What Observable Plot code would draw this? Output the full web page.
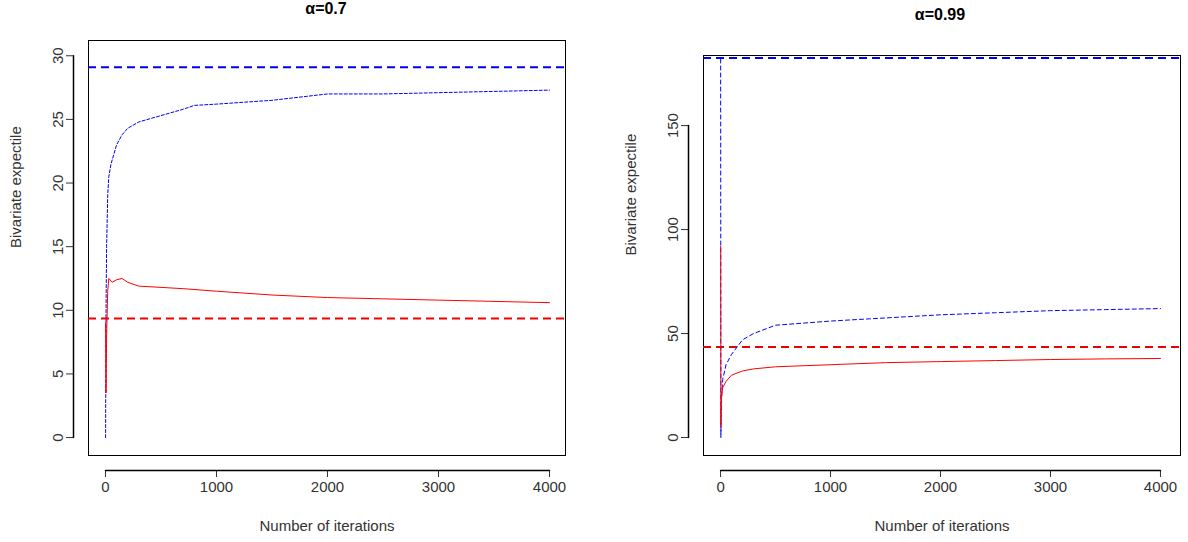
<!DOCTYPE html>
<html><head><meta charset="utf-8">
<script src="https://cdn.jsdelivr.net/npm/d3@7"></script>
<script src="https://cdn.jsdelivr.net/npm/@observablehq/plot@0.6"></script>
<style>
body{margin:0;background:#fff;font-family:"Liberation Sans",Arial,sans-serif}
#wrap{display:flex;width:1188px;height:542px}
.panel{position:relative;width:594px;height:542px}
.title{position:absolute;font-weight:bold;font-size:16px;transform:translateX(-50%)}
</style></head><body>
<div id="wrap"><div class="panel" id="p1"></div><div class="panel" id="p2"></div></div>
<script>
// alpha = 0.7
const iterA = [1, 5, 10, 20, 30, 50, 100, 150, 200, 300, 500, 700, 800, 1000, 1500, 2000, 2500, 3000, 3500, 4000]
const blueA = [0, 10, 15, 19, 20.5, 21.5, 23, 23.8, 24.3, 24.8, 25.3, 25.8, 26.1, 26.2, 26.5, 27.0, 27.0, 27.1, 27.2, 27.3]
const redIterA = [1, 5, 10, 20, 30, 60, 100, 150, 200, 300, 500, 700, 1000, 1500, 2000, 2500, 3000, 3500, 4000]
const redA = [9, 3.5, 8, 11.5, 12.5, 12.2, 12.4, 12.5, 12.2, 11.9, 11.8, 11.7, 11.5, 11.2, 11.0, 10.9, 10.8, 10.7, 10.6]
const trueBlueA = 29.1, trueRedA = 9.35
// alpha = 0.99
const iterB = [1, 3, 5, 10, 20, 50, 100, 200, 300, 500, 1000, 1500, 2000, 2500, 3000, 3500, 4000]
const blueB = [182, 0, 10, 20, 28, 35, 40, 47, 50, 54, 56, 57.5, 59, 60, 61, 61.5, 62]
const redB = [92, 5, 15, 20, 24, 27, 30, 32, 33, 34, 35, 36, 36.5, 37, 37.5, 37.8, 38]
const trueBlueB = 182.5, trueRedB = 43.5

const toRows = (xs, ys) => xs.map((x, i) => ({x, y: ys[i]}))

function panel(el, title, titleX, titleY, o) {
  const div = document.getElementById(el)
  const t = document.createElement("div")
  t.className = "title"; t.style.left = titleX + "px"; t.style.top = titleY + "px"; t.textContent = title
  div.appendChild(t)
  const chart = Plot.plot({
    width: 594, height: 542,
    marginLeft: o.ml, marginRight: o.mr, marginTop: o.mt, marginBottom: 87,
    style: {fontFamily: "Liberation Sans, Arial, sans-serif", fontSize: "15px", color: "#333"},
    x: {domain: o.xd},
    y: {domain: o.yd},
    marks: [
      Plot.frame({stroke: "#000"}),
      Plot.axisX({ticks: [0, 1000, 2000, 3000, 4000], tickFormat: d => String(d), tickSize: 7, dy: 15, tickPadding: 4, label: null}),
      Plot.line([0, 4000], {x: d => d, y: o.yd[0], dy: 15, stroke: "#000", clip: false}),
      Plot.text(["Number of iterations"], {frameAnchor: "bottom", dy: 75, fontSize: 15}),
      Plot.axisY({ticks: o.yt, tickFormat: d => String(d), tickSize: 7, dx: -15, tickRotate: -90, tickPadding: 4, label: null}),
      Plot.line([o.yt[0], o.yt[o.yt.length - 1]], {y: d => d, x: o.xd[0], dx: -15, stroke: "#000", clip: false}),
      Plot.text(["Bivariate expectile"], {frameAnchor: "left", rotate: -90, dx: -o.ml + o.lx, fontSize: 15}),
      Plot.ruleY([o.tb], {stroke: "#0000ee", strokeWidth: 2, strokeDasharray: "8,5"}),
      Plot.ruleY([o.tr], {stroke: "#ee0000", strokeWidth: 2, strokeDasharray: "8,5"}),
      Plot.line(o.blue, {x: "x", y: "y", stroke: "#0000ff", strokeDasharray: o.bdash, strokeWidth: 1}),
      Plot.line(o.red, {x: "x", y: "y", stroke: "#ff0000", strokeWidth: 1})
    ]
  })
  div.appendChild(chart)
}

panel("p1", "α=0.7", 326, 0, {
  ml: 88, mr: 29, mt: 40, lx: 16, xd: [-153, 4144], yd: [-1.41, 31.2], yt: [0, 5, 10, 15, 20, 25, 30],
  tb: trueBlueA, tr: trueRedA, blue: toRows(iterA, blueA), red: toRows(redIterA, redA), bdash: "3,2"
})
panel("p2", "α=0.99", 346, 6, {
  ml: 109, mr: 8, mt: 55, lx: 37, xd: [-155, 4182], yd: [-8.65, 183.7], yt: [0, 50, 100, 150],
  tb: trueBlueB, tr: trueRedB, blue: toRows(iterB, blueB), red: toRows(iterB, redB), bdash: "4,3"
})
</script></body></html>
